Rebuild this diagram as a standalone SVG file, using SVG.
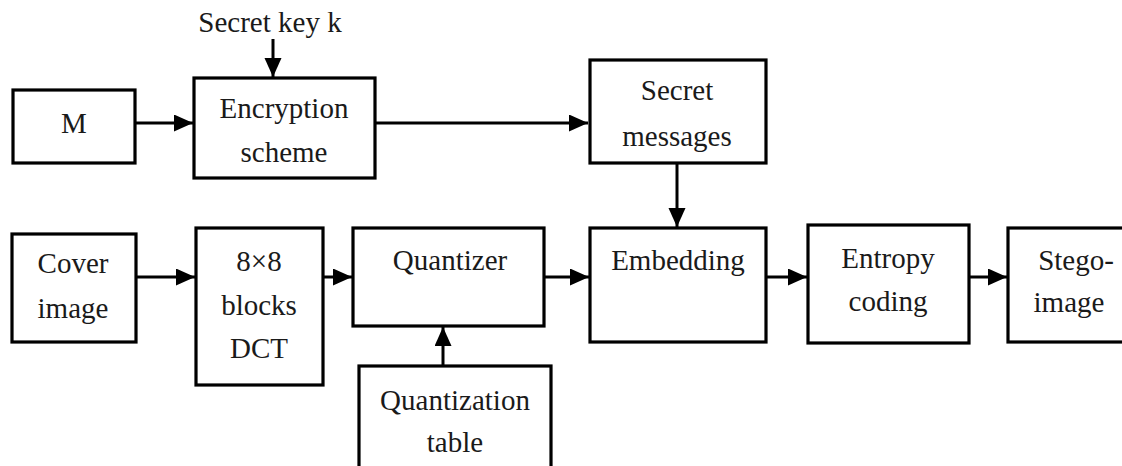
<svg xmlns="http://www.w3.org/2000/svg" width="1122" height="466" viewBox="0 0 1122 466">
<defs>
<style>
.box{fill:#fff;stroke:#000;stroke-width:3.2}
.t{font-family:'Liberation Serif','Times New Roman','DejaVu Serif',serif;font-size:29px;fill:#1a1a1a;text-anchor:middle}
.c{stroke:#000;stroke-width:3;fill:none}
</style>
<marker id="ah" markerUnits="userSpaceOnUse" markerWidth="20" markerHeight="18" refX="19" refY="8.5" orient="auto">
<path d="M0,0 L19,8.5 L0,17 Z" fill="#000"/>
</marker>
</defs>
<rect width="1122" height="466" fill="#fff"/>
<g id="connectors">
<line class="c" x1="273" y1="39" x2="273" y2="77" marker-end="url(#ah)"/>
<line class="c" x1="136" y1="123" x2="193" y2="123" marker-end="url(#ah)"/>
<line class="c" x1="375" y1="123" x2="588" y2="123" marker-end="url(#ah)"/>
<line class="c" x1="677" y1="163" x2="677" y2="227" marker-end="url(#ah)"/>
<line class="c" x1="136" y1="277" x2="195" y2="277" marker-end="url(#ah)"/>
<line class="c" x1="323" y1="277" x2="352" y2="277" marker-end="url(#ah)"/>
<line class="c" x1="544" y1="277" x2="589" y2="277" marker-end="url(#ah)"/>
<line class="c" x1="443" y1="366" x2="443" y2="327" marker-end="url(#ah)"/>
<line class="c" x1="766" y1="277" x2="807" y2="277" marker-end="url(#ah)"/>
<line class="c" x1="964" y1="277" x2="1007" y2="277" marker-end="url(#ah)"/>
</g>
<g id="secret-key">
<text class="t" x="270" y="32" font-family="Liberation Serif, serif">Secret key k</text>
</g>
<g id="M">
<rect class="box" x="13" y="90" width="122" height="73"/>
<text class="t" x="74" y="133">M</text>
</g>
<g id="encryption">
<rect class="box" x="194" y="78" width="181" height="100"/>
<text class="t" x="284" y="118">Encryption</text>
<text class="t" x="284" y="162">scheme</text>
</g>
<g id="secret-messages">
<rect class="box" x="590" y="60" width="176" height="103"/>
<text class="t" x="677" y="100">Secret</text>
<text class="t" x="677" y="146">messages</text>
</g>
<g id="cover-image">
<rect class="box" x="12" y="234" width="124" height="108"/>
<text class="t" x="73" y="273">Cover</text>
<text class="t" x="73" y="318">image</text>
</g>
<g id="dct">
<rect class="box" x="196" y="228" width="127" height="157"/>
<text class="t" x="259" y="271">8×8</text>
<text class="t" x="259" y="315">blocks</text>
<text class="t" x="259" y="358">DCT</text>
</g>
<g id="quantizer">
<rect class="box" x="353" y="228" width="191" height="98"/>
<text class="t" x="450" y="270">Quantizer</text>
</g>
<g id="quantization-table">
<rect class="box" x="359" y="366" width="192" height="110"/>
<text class="t" x="455" y="410">Quantization</text>
<text class="t" x="455" y="452">table</text>
</g>
<g id="embedding">
<rect class="box" x="590" y="228" width="176" height="114"/>
<text class="t" x="678" y="270">Embedding</text>
</g>
<g id="entropy-coding">
<rect class="box" x="808" y="225" width="161" height="118"/>
<text class="t" x="888" y="268">Entropy</text>
<text class="t" x="888" y="311">coding</text>
</g>
<g id="stego-image">
<rect class="box" x="1008" y="228" width="120" height="114"/>
<text class="t" x="1076" y="270">Stego-</text>
<text class="t" x="1069" y="312">image</text>
</g>
</svg>
